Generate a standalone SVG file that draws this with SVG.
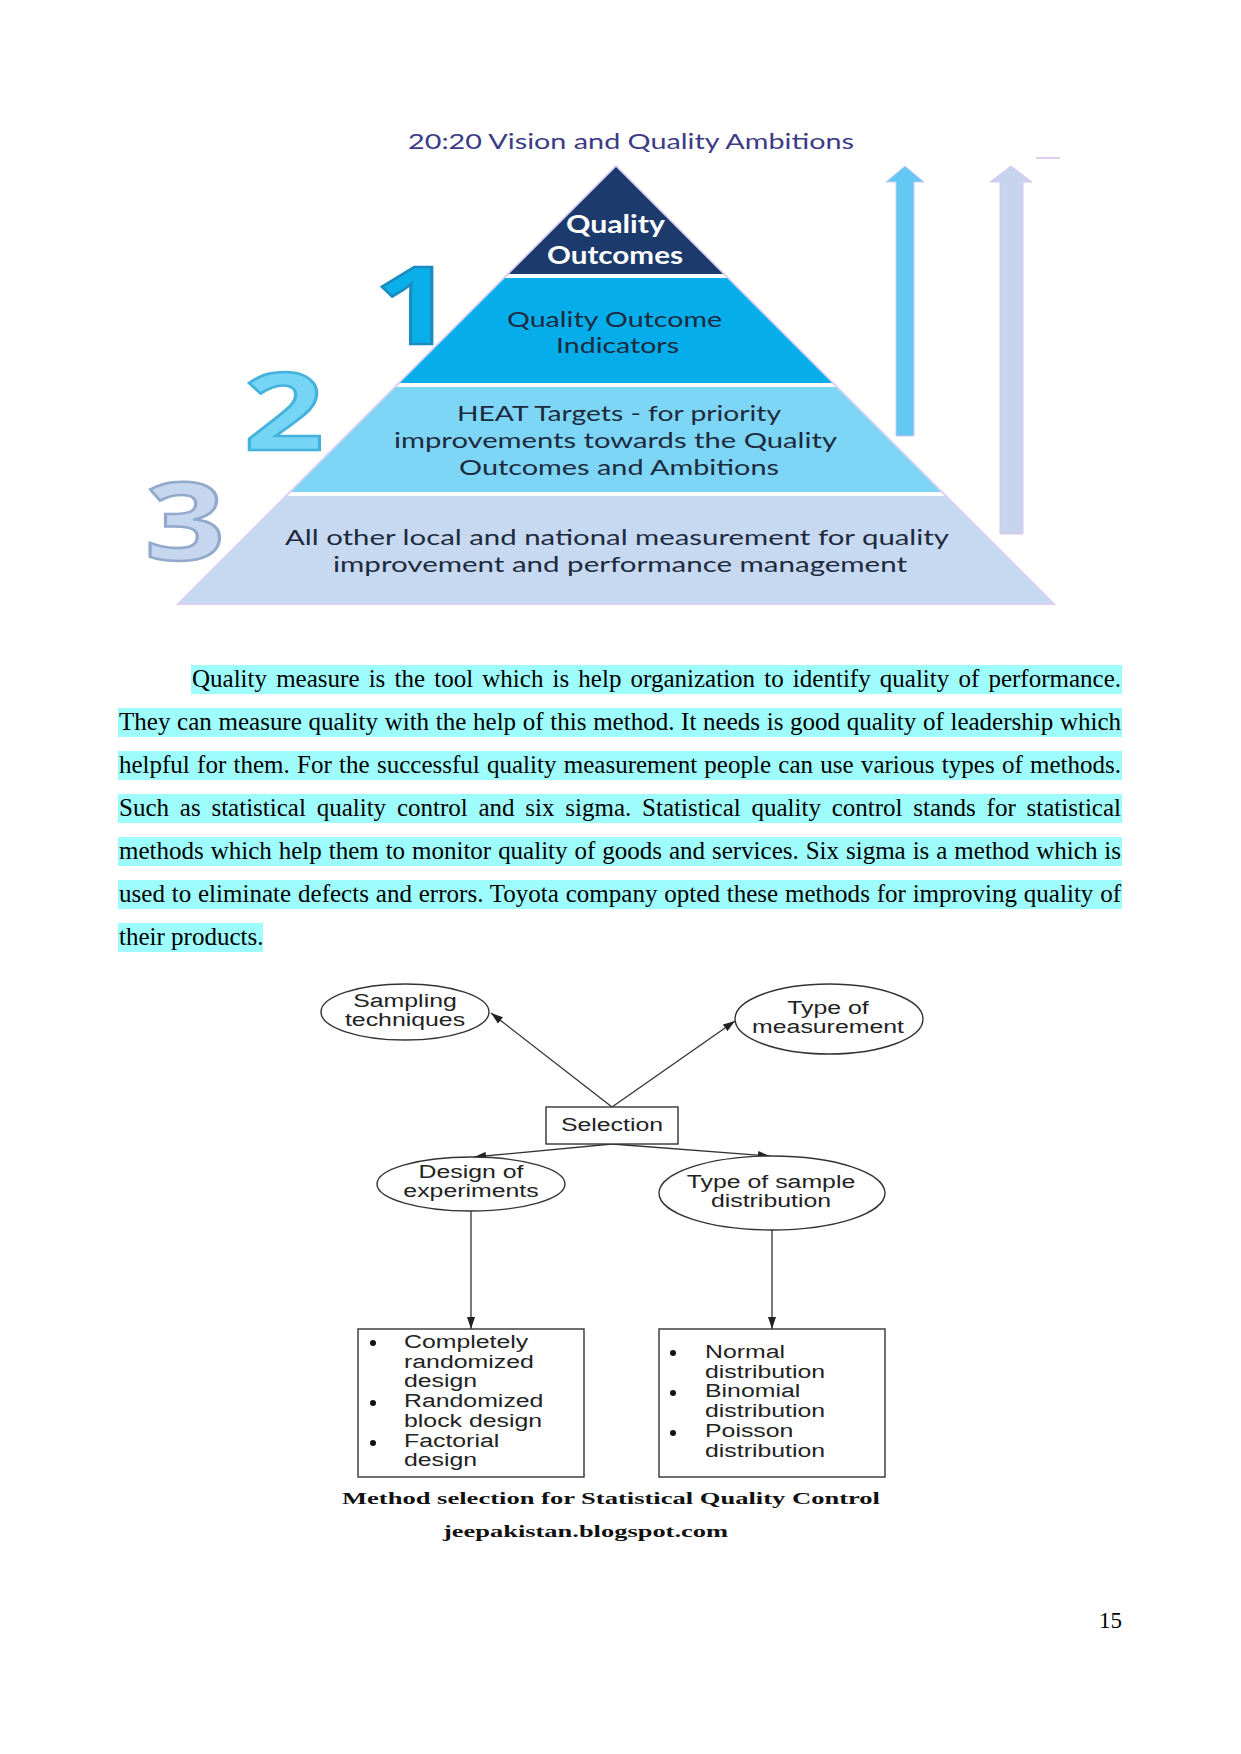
<svg xmlns="http://www.w3.org/2000/svg" width="1241" height="1754" viewBox="0 0 1241 1754">
<defs>
<style>
.pt{font-family:Lato,"Open Sans","DejaVu Sans",sans-serif;font-size:22px;fill:#1e2a3e;}
.ptw{font-family:Lato,"Open Sans","DejaVu Sans",sans-serif;font-size:24px;font-weight:bold;fill:#ffffff;}
.ttl{font-family:Lato,"Open Sans","DejaVu Sans",sans-serif;font-size:22px;fill:#3b3b86;}
.dig{font-family:"Open Sans","DejaVu Sans",sans-serif;font-size:108px;font-weight:bold;stroke-width:2.5;}
.para{font-family:"Liberation Serif","Times New Roman",serif;font-size:25px;fill:#000;}
.hl{fill:#9ffcfc;}
.fc{font-family:"Liberation Sans",Arial,sans-serif;font-size:18px;fill:#222;}
.node{fill:#fff;stroke:#333;stroke-width:1.4;}
.conn{stroke:#333;stroke-width:1.3;fill:none;marker-end:url(#ah);}
.cap{font-family:"Liberation Serif","Times New Roman",serif;font-size:17px;font-weight:bold;fill:#111;}
</style>
<marker id="ah" viewBox="0 0 12 8" refX="12" refY="4" markerWidth="12" markerHeight="8" markerUnits="userSpaceOnUse" orient="auto"><path d="M0,0 L12,4 L0,8 Z" fill="#222"/></marker>
</defs>
<rect width="1241" height="1754" fill="#fff"/>

<!-- Pyramid figure -->
<g id="pyramid-figure">
  <text class="ttl" x="408" y="149" textLength="446" lengthAdjust="spacingAndGlyphs">20:20 Vision and Quality Ambitions</text>
  <path d="M616,166 L1054,604 L178,604 Z" fill="none" stroke="#ddd0f2" stroke-width="2"/>
  <g id="tier1"><path d="M616,167 L723,274 L509,274 Z" fill="#1c3a6c"/>
    <text class="ptw" x="566" y="233" textLength="99" lengthAdjust="spacingAndGlyphs">Quality</text>
    <text class="ptw" x="547" y="264" textLength="136" lengthAdjust="spacingAndGlyphs">Outcomes</text></g>
  <g id="tier2"><path d="M505,278 L727,278 L832,383 L400,383 Z" fill="#05aeea"/>
    <text class="pt" x="507" y="327" textLength="215" lengthAdjust="spacingAndGlyphs">Quality Outcome</text>
    <text class="pt" x="556" y="353" textLength="123" lengthAdjust="spacingAndGlyphs">Indicators</text></g>
  <g id="tier3"><path d="M396,387 L836,387 L941,492 L291,492 Z" fill="#7dd6f5"/>
    <text class="pt" x="457" y="421" textLength="324" lengthAdjust="spacingAndGlyphs">HEAT Targets - for priority</text>
    <text class="pt" x="394" y="448" textLength="443" lengthAdjust="spacingAndGlyphs">improvements towards the Quality</text>
    <text class="pt" x="459" y="475" textLength="320" lengthAdjust="spacingAndGlyphs">Outcomes and Ambitions</text></g>
  <g id="tier4"><path d="M287,496 L945,496 L1052,603 L180,603 Z" fill="#c6d9f0"/>
    <text class="pt" x="285" y="545" textLength="664" lengthAdjust="spacingAndGlyphs">All other local and national measurement for quality</text>
    <text class="pt" x="333" y="572" textLength="574" lengthAdjust="spacingAndGlyphs">improvement and performance management</text></g>
  <g id="num1"><text class="dig" transform="matrix(1.3,0,0,1,414,344)" x="0" y="0" text-anchor="middle" fill="#0aafe9" stroke="#1b8cc0">1</text></g>
  <g id="num2"><text class="dig" transform="matrix(1.3,0,0,1,284,450)" x="0" y="0" text-anchor="middle" fill="#76d5f4" stroke="#45b2dd">2</text></g>
  <g id="num3"><text class="dig" transform="matrix(1.3,0,0,1,185,560)" x="0" y="0" text-anchor="middle" fill="#c5d6ee" stroke="#93a9cc">3</text></g>
  <g id="arrow1"><path d="M905,166 L924,182 L914,182 L914,436 L896,436 L896,182 L886,182 Z" fill="#63c8f3" stroke="#d8c6ee" stroke-width="1"/></g>
  <g id="arrow2"><path d="M1011,166 L1032,182 L1023,182 L1023,534 L1000,534 L1000,182 L990,182 Z" fill="#c6d4ee" stroke="#d8c6ee" stroke-width="1"/></g>
  <line x1="1036" y1="158" x2="1060" y2="158" stroke="#e6cdf0" stroke-width="2"/>
</g>

<!-- Paragraph -->
<g id="paragraph">
  <rect class="hl" x="191" y="665" width="931" height="29"/>
  <rect class="hl" x="118" y="708" width="1004" height="29"/>
  <rect class="hl" x="118" y="751" width="1004" height="29"/>
  <rect class="hl" x="118" y="794" width="1004" height="29"/>
  <rect class="hl" x="118" y="837" width="1004" height="29"/>
  <rect class="hl" x="118" y="880" width="1004" height="29"/>
  <rect class="hl" x="118" y="923" width="145" height="29"/>
  <text class="para" x="192" y="687" style="word-spacing:2.9px" textLength="929" lengthAdjust="spacing">Quality measure is the tool which is help organization to identify quality of performance.</text>
  <text class="para" x="119" y="730" style="word-spacing:0.45px" textLength="1002" lengthAdjust="spacing">They can measure quality with the help of this method. It needs is good quality of leadership which</text>
  <text class="para" x="119" y="773" style="word-spacing:1.04px" textLength="1002" lengthAdjust="spacing">helpful for them. For the successful quality measurement people can use various types of methods.</text>
  <text class="para" x="119" y="816" style="word-spacing:4.54px" textLength="1002" lengthAdjust="spacing">Such as statistical quality control and six sigma. Statistical quality control stands for statistical</text>
  <text class="para" x="119" y="859" style="word-spacing:0.69px" textLength="1002" lengthAdjust="spacing">methods which help them to monitor quality of goods and services. Six sigma is a method which is</text>
  <text class="para" x="119" y="902" style="word-spacing:0.5px" textLength="1002" lengthAdjust="spacing">used to eliminate defects and errors. Toyota company opted these methods for improving quality of</text>
  <text class="para" x="119" y="945">their products.</text>
</g>

<!-- Flowchart connectors -->
<g id="connectors">
  <line class="conn" x1="612" y1="1107" x2="491" y2="1013"/>
  <line class="conn" x1="612" y1="1107" x2="735" y2="1021"/>
  <line class="conn" x1="612" y1="1144" x2="474" y2="1157"/>
  <line class="conn" x1="612" y1="1144" x2="770" y2="1156"/>
  <line class="conn" x1="471" y1="1211" x2="471" y2="1329"/>
  <line class="conn" x1="772" y1="1230" x2="772" y2="1329"/>
</g>

<!-- Flowchart nodes -->
<g id="sampling">
  <ellipse class="node" cx="405" cy="1012" rx="84" ry="28"/>
  <text class="fc" transform="matrix(1.38,0,0,1,405,0)" x="0" y="1007" text-anchor="middle">Sampling</text>
  <text class="fc" transform="matrix(1.38,0,0,1,405,0)" x="0" y="1026" text-anchor="middle">techniques</text>
</g>
<g id="type-of-measurement">
  <ellipse class="node" cx="829" cy="1019" rx="94" ry="35"/>
  <text class="fc" transform="matrix(1.38,0,0,1,828,0)" x="0" y="1014" text-anchor="middle">Type of</text>
  <text class="fc" transform="matrix(1.38,0,0,1,828,0)" x="0" y="1033" text-anchor="middle">measurement</text>
</g>
<g id="selection">
  <rect class="node" x="546" y="1107" width="132" height="37"/>
  <text class="fc" transform="matrix(1.38,0,0,1,612,0)" x="0" y="1131" text-anchor="middle">Selection</text>
</g>
<g id="design-of-experiments">
  <ellipse class="node" cx="471" cy="1184" rx="94" ry="27"/>
  <text class="fc" transform="matrix(1.38,0,0,1,471,0)" x="0" y="1178" text-anchor="middle">Design of</text>
  <text class="fc" transform="matrix(1.38,0,0,1,471,0)" x="0" y="1197" text-anchor="middle">experiments</text>
</g>
<g id="type-of-sample-distribution">
  <ellipse class="node" cx="772" cy="1193" rx="113" ry="37"/>
  <text class="fc" transform="matrix(1.38,0,0,1,771,0)" x="0" y="1188" text-anchor="middle">Type of sample</text>
  <text class="fc" transform="matrix(1.38,0,0,1,771,0)" x="0" y="1207" text-anchor="middle">distribution</text>
</g>
<g id="designs-box">
  <rect class="node" x="358" y="1329" width="226" height="148"/>
  <ellipse cx="373" cy="1343" rx="3" ry="3" fill="#111"/>
  <ellipse cx="373" cy="1403" rx="3" ry="3" fill="#111"/>
  <ellipse cx="373" cy="1443" rx="3" ry="3" fill="#111"/>
  <g class="fc" transform="matrix(1.38,0,0,1,404,0)">
    <text x="0" y="1348">Completely</text>
    <text x="0" y="1368">randomized</text>
    <text x="0" y="1387">design</text>
    <text x="0" y="1407">Randomized</text>
    <text x="0" y="1427">block design</text>
    <text x="0" y="1447">Factorial</text>
    <text x="0" y="1466">design</text>
  </g>
</g>
<g id="distributions-box">
  <rect class="node" x="659" y="1329" width="226" height="148"/>
  <ellipse cx="673" cy="1353" rx="3" ry="3" fill="#111"/>
  <ellipse cx="673" cy="1393" rx="3" ry="3" fill="#111"/>
  <ellipse cx="673" cy="1433" rx="3" ry="3" fill="#111"/>
  <g class="fc" transform="matrix(1.38,0,0,1,705,0)">
    <text x="0" y="1358">Normal</text>
    <text x="0" y="1378">distribution</text>
    <text x="0" y="1397">Binomial</text>
    <text x="0" y="1417">distribution</text>
    <text x="0" y="1437">Poisson</text>
    <text x="0" y="1457">distribution</text>
  </g>
</g>
<g id="captions">
  <text class="cap" x="342" y="1504" textLength="538" lengthAdjust="spacingAndGlyphs">Method selection for Statistical Quality Control</text>
  <text class="cap" x="443" y="1537" textLength="285" lengthAdjust="spacingAndGlyphs">jeepakistan.blogspot.com</text>
</g>
<text id="page-number" x="1099" y="1628" font-family="Liberation Serif, Times New Roman, serif" font-size="23" fill="#000">15</text>
</svg>
